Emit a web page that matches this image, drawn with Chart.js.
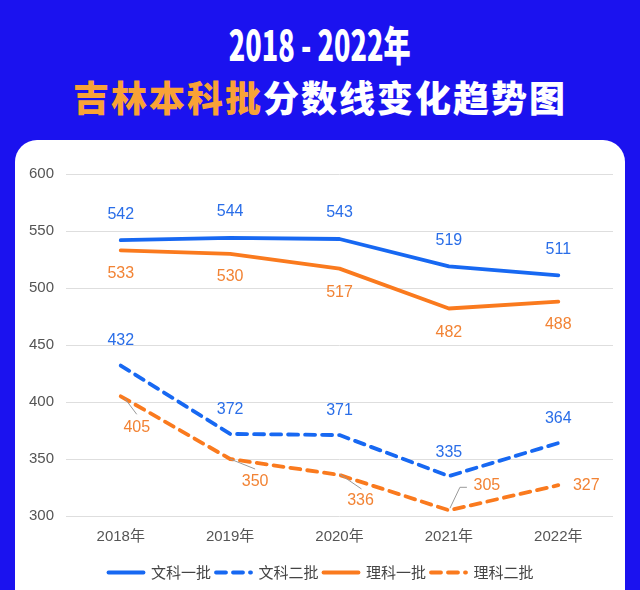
<!DOCTYPE html>
<html>
<head>
<meta charset="utf-8">
<script src="https://cdn.jsdelivr.net/npm/chart.js@4.4.0/dist/chart.umd.min.js"></script>
<style>
  html, body { margin: 0; padding: 0; }
  body { width: 640px; height: 590px; background: #1b12ef; position: relative; overflow: hidden; }
  .t1 { position: absolute; left: 0; top: 19px; width: 640px; text-align: center; color: #fff;
        font: 900 41px "Noto Sans CJK SC", sans-serif; line-height: 48px; }
  .t1 span { display: inline-block; transform: scaleX(0.66); }
  .t2 { position: absolute; left: 0; top: 73px; width: 640px; text-align: center; color: #fff;
        font: 900 36px "Noto Sans CJK SC", sans-serif; line-height: 46px; letter-spacing: 2px; }
  .t2 b { color: #f9a236; font-weight: 900; }
  .card { position: absolute; left: 15px; top: 140px; width: 610px; height: 480px; background: #fff; border-radius: 22px; }
  canvas { position: absolute; left: 0; top: 0; }
</style>
</head>
<body>
<div class="t1"><span>2018 - 2022年</span></div>
<div class="t2"><b>吉林本科批</b>分数线变化趋势图</div>
<div class="card"></div>
<canvas id="chart" width="640" height="590"></canvas>
<script>
// data
var years = ['2018年', '2019年', '2020年', '2021年', '2022年'];
var wenke1 = [542, 544, 543, 519, 511];
var wenke2 = [432, 372, 371, 335, 364];
var like1 = [533, 530, 517, 482, 488];
var like2 = [405, 350, 336, 305, 327];

var blue = '#1768f2';
var orange = '#fa7a1e';
var blueText = '#2a6ee8';
var orangeText = '#f28334';

// where each value label sits relative to its point (plus optional leader line)
var labelPlace = {
  '文科一批': [[0, -26], [0, -26], [0, -26], [0, -26], [0, -26]],
  '文科二批': [[0, -25], [0, -24], [0, -24], [0, -24], [0, -24]],
  '理科一批': [[0, 23], [0, 23], [0, 24], [0, 24], [0, 23]],
  '理科二批': [[16, 31, [[4, 2], [16, 18]]], [25, 23, [[0, 0], [25, 10]]], [21, 26, [[0, -1], [22, 14]]],
              [38, -25, [[1, -2], [11, -23], [18, -23]]], [28, 0]]
};

var valueLabels = {
  id: 'valueLabels',
  afterLayout: function(chart) {
    // legend sits a little right of centre in the original
    chart.legend.left += 6;
    chart.legend.right += 6;
  },
  afterDatasetsDraw: function(chart) {
    var ctx = chart.ctx;
    ctx.save();
    chart.data.datasets.forEach(function(ds, i) {
      var meta = chart.getDatasetMeta(i);
      var place = labelPlace[ds.label];
      meta.data.forEach(function(pt, j) {
        var p = place[j];
        if (p[2]) {
          ctx.strokeStyle = '#999';
          ctx.lineWidth = 1;
          ctx.setLineDash([]);
          ctx.beginPath();
          p[2].forEach(function(q, k) {
            if (k === 0) ctx.moveTo(pt.x + q[0], pt.y + q[1]);
            else ctx.lineTo(pt.x + q[0], pt.y + q[1]);
          });
          ctx.stroke();
        }
        ctx.fillStyle = ds.textColor;
        ctx.font = '16px "Liberation Sans", Arial, sans-serif';
        ctx.textAlign = 'center';
        ctx.textBaseline = 'middle';
        ctx.fillText(ds.data[j], pt.x + p[0], pt.y + p[1]);
      });
    });
    ctx.restore();
  }
};

function series(label, values, color, textColor, dashed) {
  return {
    label: label,
    data: values,
    borderColor: color,
    backgroundColor: color,
    textColor: textColor,
    borderWidth: 3.8,
    borderDash: dashed ? [10, 7] : [],
    borderCapStyle: 'round',
    borderJoinStyle: 'round',
    pointRadius: 0,
    tension: 0,
    fill: false
  };
}

new Chart(document.getElementById('chart'), {
  type: 'line',
  data: {
    labels: years,
    datasets: [
      series('文科一批', wenke1, blue, blueText, false),
      series('文科二批', wenke2, blue, blueText, true),
      series('理科一批', like1, orange, orangeText, false),
      series('理科二批', like2, orange, orangeText, true)
    ]
  },
  options: {
    responsive: false,
    animation: false,
    layout: { padding: { left: 17, right: 27, top: 174, bottom: 0 } },
    plugins: {
      tooltip: { enabled: false },
      legend: {
        position: 'bottom',
        labels: {
          usePointStyle: true,
          pointStyle: 'line',
          pointStyleWidth: 35,
          padding: 5,
          color: '#444',
          font: { size: 15, family: '"Noto Sans CJK SC", sans-serif' },
          generateLabels: function(chart) {
            var items = Chart.defaults.plugins.legend.labels.generateLabels(chart);
            items.forEach(function(it) {
              var ds = chart.data.datasets[it.datasetIndex];
              it.lineDash = ds.borderDash;
              it.lineWidth = ds.borderWidth;
              it.lineCap = 'round';
            });
            return items;
          }
        }
      }
    },
    scales: {
      x: {
        offset: true,
        grid: { display: false },
        border: { display: false },
        ticks: { color: '#555', padding: 4, font: { size: 15, family: '"Liberation Sans", "Noto Sans CJK SC", sans-serif' } },
        afterFit: function(scale) { scale.height += 10; }
      },
      y: {
        min: 300,
        max: 600,
        ticks: { stepSize: 50, color: '#555', padding: 12, font: { size: 15, family: '"Liberation Sans", sans-serif' } },
        grid: { color: '#dedede', drawTicks: false },
        border: { display: false }
      }
    }
  },
  plugins: [valueLabels]
});
</script>
</body>
</html>
